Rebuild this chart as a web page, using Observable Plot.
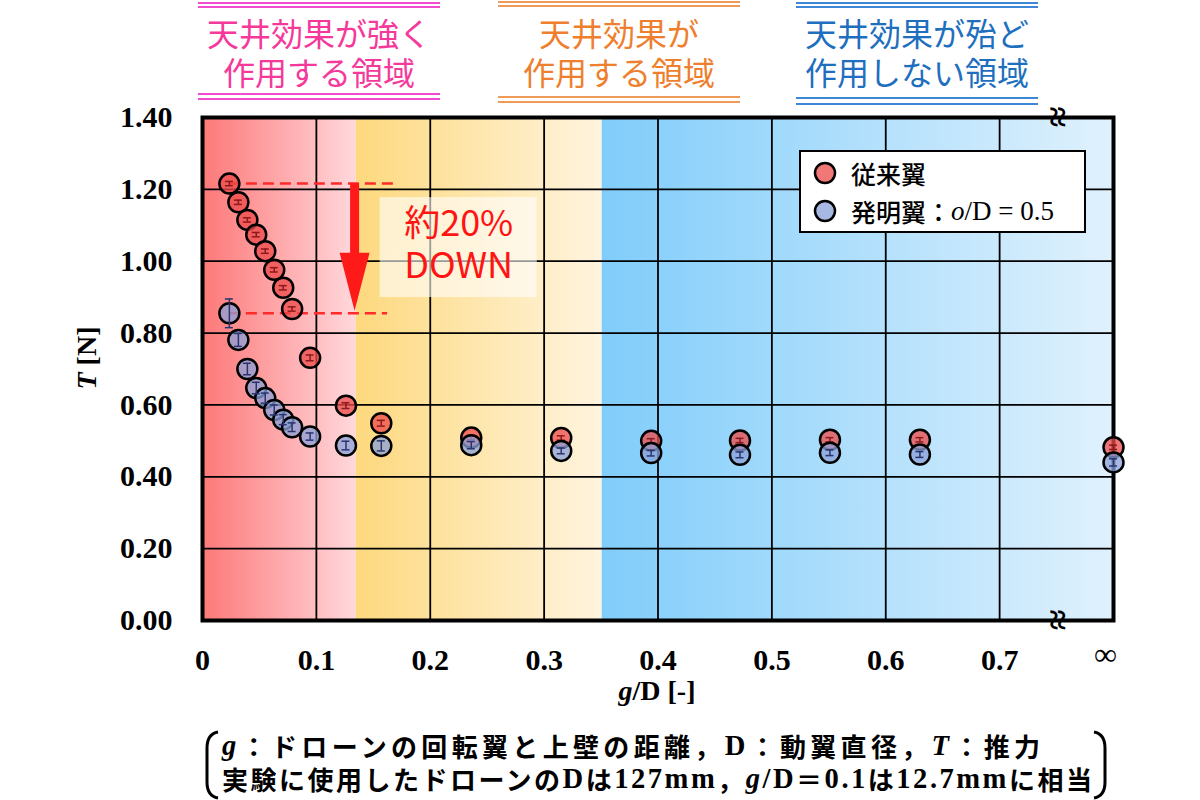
<!DOCTYPE html>
<html><head><meta charset="utf-8">
<script src="https://cdn.jsdelivr.net/npm/d3@7"></script>
<script src="https://cdn.jsdelivr.net/npm/@observablehq/plot@0.6"></script>
<style>
body{margin:0;background:#fff;}
#chart{width:1200px;height:800px;}
</style></head><body><div id="chart"></div>
<script>
// ---------- data ----------
const gD = [0.0236,0.0315,0.0394,0.0472,0.0551,0.0630,0.0709,0.0787,0.0945,0.126,0.157,0.236,0.315,0.394,0.472,0.551,0.630,Infinity];
const thrustConventional = [1.216,1.164,1.115,1.074,1.028,0.976,0.926,0.867,0.731,0.598,0.549,0.509,0.508,0.500,0.501,0.503,0.503,0.482];
const errConventional    = [0.006,0.006,0.006,0.006,0.006,0.006,0.006,0.006,0.008,0.008,0.008,0.006,0.006,0.006,0.006,0.006,0.006,0.006];
const thrustInvention    = [0.855,0.781,0.700,0.647,0.619,0.586,0.559,0.538,0.512,0.487,0.486,0.488,0.472,0.466,0.461,0.467,0.462,0.440];
const errInvention       = [0.040,0.018,0.016,0.016,0.014,0.014,0.014,0.012,0.010,0.012,0.014,0.010,0.008,0.008,0.008,0.008,0.008,0.010];
const seriesNames = ["従来翼","発明翼："];
const xTicks = [0,0.1,0.2,0.3,0.4,0.5,0.6,0.7];
const xTickLabels = ["0","0.1","0.2","0.3","0.4","0.5","0.6","0.7"];
const infLabel = "∞";
const yTicks = [0,0.2,0.4,0.6,0.8,1.0,1.2,1.4];
const regionBounds = [0,0.135,0.351,0.8];
const regionTitles = [["天井効果が強く","作用する領域"],["天井効果が","作用する領域"],["天井効果が殆ど","作用しない領域"]];
const regionColors = ["#f5399b","#ee7f2e","#1f6fbf"];
const regionLineColors = ["#f04ccd","#f09a5a","#3d88d6"];
const bandStops = [["#fd7878","#ffd8dc"],["#fdd97e","#fff4de"],["#80cdfb","#e0f1fd"]];
const dropText = ["約20%","DOWN"];
const captionLines = [
  [["g","it"],["：ドローンの回転翼と上壁の距離，",""],["D","ser"],["：動翼直径，",""],["T","it"],["：推力",""]],
  [["実験に使用したドローンの",""],["D","ser"],["は",""],["127mm","ser"],["，",""],["g","it"],["/D","ser"],["＝",""],["0.1","ser"],["は",""],["12.7mm","ser"],["に相当",""]]
];

// ---------- build ----------
const X_INF = 0.8;
const rows = gD.map((g,i)=>({
  x: isFinite(g) ? g : X_INF,
  red: thrustConventional[i], redErr: errConventional[i],
  blue: thrustInvention[i], blueErr: errInvention[i]
}));
const bands = regionBounds.slice(0,-1).map((b,i)=>({x1:b, x2:regionBounds[i+1], id:"band"+i}));
const cap = 0.0035;
const dashes = [
  {y: thrustConventional[0], x1: gD[0], x2: 0.168},
  {y: thrustInvention[0], x1: gD[0], x2: 0.1625}
];
const RED = "#ee4a4a", BLUE = "#8aa0d8";
const serif = "'Liberation Serif','Times New Roman',serif";
const jp = "'Noto Sans CJK JP','Noto Sans',sans-serif";

const plot = Plot.plot({
  width:1200, height:800,
  marginLeft:202, marginRight:87, marginTop:117, marginBottom:180,
  style:{fontFamily:serif, background:"transparent", overflow:"visible"},
  x:{domain:[0,0.8]},
  y:{domain:[0,1.4]},
  marks:[
    ...bands.map(b => Plot.rect([b], {x1:"x1", x2:"x2", fill:`url(#${b.id})`})),
    Plot.gridX({ticks: xTicks.slice(1), stroke:"#000", strokeOpacity:1, strokeWidth:1.8}),
    Plot.gridY({ticks: yTicks.slice(1,-1), stroke:"#000", strokeOpacity:1, strokeWidth:1.8}),
    Plot.rect([0], {x1:()=>0.156, x2:()=>0.294, y1:()=>0.899, y2:()=>1.177, fill:"#fff", fillOpacity:0.6}),
    Plot.text([dropText[0]], {x:()=>0.225, y:()=>1.102, text:d=>d, fill:"#ff1414", fontSize:36, fontFamily:jp}),
    Plot.text([dropText[1]], {x:()=>0.225, y:()=>0.984, text:d=>d, fill:"#ff1414", fontSize:36, fontFamily:jp}),
    Plot.ruleY(dashes, {y:"y", x1:"x1", x2:"x2", stroke:"#ff2a2a", strokeWidth:2.5, strokeDasharray:"11,6"}),
    Plot.frame({stroke:"#000", strokeWidth:4}),
    Plot.axisX({ticks:xTicks, tickFormat:(d)=>xTickLabels[xTicks.indexOf(d)], tickSize:0, tickPadding:28, fontSize:30, fontWeight:"bold", label:null}),
    Plot.text([infLabel], {x:()=>X_INF, frameAnchor:"bottom", dy:44, dx:-8, text:d=>d, fontSize:32, fontFamily:serif}),
    Plot.axisY({ticks:yTicks, tickFormat:d=>d.toFixed(2), tickSize:0, tickPadding:30, fontSize:30, fontWeight:"bold", label:null}),
    Plot.dot(rows, {x:"x", y:"red", r:10, fill:RED, fillOpacity:0.75, stroke:"#000", strokeWidth:2.5}),
    Plot.ruleX(rows, {x:"x", y1:d=>d.red-d.redErr, y2:d=>d.red+d.redErr, stroke:"#8b1a1a", strokeWidth:1.5}),
    Plot.ruleY(rows, {y:d=>d.red-d.redErr, x1:d=>d.x-cap, x2:d=>d.x+cap, stroke:"#8b1a1a", strokeWidth:1.5}),
    Plot.ruleY(rows, {y:d=>d.red+d.redErr, x1:d=>d.x-cap, x2:d=>d.x+cap, stroke:"#8b1a1a", strokeWidth:1.5}),
    Plot.dot(rows, {x:"x", y:"blue", r:10, fill:BLUE, fillOpacity:0.75, stroke:"#000", strokeWidth:2.5}),
    Plot.ruleX(rows, {x:"x", y1:d=>d.blue-d.blueErr, y2:d=>d.blue+d.blueErr, stroke:"#2a3570", strokeWidth:1.5}),
    Plot.ruleY(rows, {y:d=>d.blue-d.blueErr, x1:d=>d.x-cap, x2:d=>d.x+cap, stroke:"#2a3570", strokeWidth:1.5}),
    Plot.ruleY(rows, {y:d=>d.blue+d.blueErr, x1:d=>d.x-cap, x2:d=>d.x+cap, stroke:"#2a3570", strokeWidth:1.5})
  ]
});
document.getElementById("chart").append(plot);

const svg = d3.select(plot);
const xs = plot.scale("x"), ys = plot.scale("y");
const X = v => xs.apply(v), Y = v => ys.apply(v);

// gradients
const defs = svg.insert("defs", ":first-child");
bands.forEach((b,i)=>{
  const lg = defs.append("linearGradient").attr("id", b.id).attr("x1","0").attr("x2","1").attr("y1","0").attr("y2","0");
  lg.append("stop").attr("offset","0").attr("stop-color", bandStops[i][0]);
  lg.append("stop").attr("offset","1").attr("stop-color", bandStops[i][1]);
});

// arrow (from conventional to invention first value)
const ax = X(0.134), ay1 = Y(thrustConventional[0]), ay2 = Y(thrustInvention[0]) - 2;
const headH = 58, headW = 30, shaftW = 9;
const ag = svg.append("g").attr("fill","#ff1a1a");
ag.append("rect").attr("x", ax - shaftW/2).attr("y", ay1).attr("width", shaftW).attr("height", ay2 - headH - ay1 + 1);
ag.append("path").attr("d", `M${ax-headW/2},${ay2-headH} L${ax+headW/2},${ay2-headH} L${ax},${ay2} Z`);

// break marks
[117, 620].forEach(yy=>{
  svg.append("text").attr("transform", `translate(${X(0.752)},${yy}) rotate(90)`)
    .attr("text-anchor","middle").attr("dominant-baseline","central")
    .attr("font-family", serif).attr("font-weight","bold").attr("font-size",38).text("≈");
});

// axis labels
const yl = svg.append("text").attr("transform","translate(86,358) rotate(-90)")
  .attr("text-anchor","middle").attr("dominant-baseline","central")
  .attr("font-family",serif).attr("font-weight","bold").attr("font-size",28);
yl.append("tspan").attr("font-style","italic").text("T");
yl.append("tspan").text(" [N]");
const xl = svg.append("text").attr("x",657).attr("y",690)
  .attr("text-anchor","middle").attr("dominant-baseline","central")
  .attr("font-family",serif).attr("font-weight","bold").attr("font-size",28);
xl.append("tspan").attr("font-style","italic").text("g");
xl.append("tspan").text("/D [-]");

// legend
const lg = svg.append("g").attr("text-anchor","start");
lg.append("rect").attr("x",800).attr("y",151).attr("width",285).attr("height",81).attr("fill","#fff").attr("stroke","#000").attr("stroke-width",2);
[[RED,173],[BLUE,211]].forEach(([c,yy])=>{
  lg.append("circle").attr("cx",825).attr("cy",yy).attr("r",10).attr("fill",c).attr("fill-opacity",0.75).attr("stroke","#000").attr("stroke-width",2.5);
});
lg.append("text").attr("x",851).attr("y",173).attr("text-anchor","start").attr("dominant-baseline","central")
  .attr("font-family",jp).attr("font-weight",500).attr("font-size",25).text(seriesNames[0]);
const l2 = lg.append("text").attr("x",851).attr("y",211).attr("text-anchor","start").attr("dominant-baseline","central")
  .attr("font-family",jp).attr("font-weight",500).attr("font-size",25);
l2.append("tspan").text(seriesNames[1]);
l2.append("tspan").attr("font-family",serif).attr("font-style","italic").attr("font-size",27).text("o");
l2.append("tspan").attr("font-family",serif).attr("font-size",27).text("/D = 0.5");

// region headers
const centers = [319, 619, 917];
const lineY = [[3,7,94,99],[2,6,97,102],[3,7,98,104]];
centers.forEach((cx,i)=>{
  const g = svg.append("g");
  lineY[i].forEach(yy=>{
    g.append("line").attr("x1",cx-121).attr("x2",cx+121).attr("y1",yy).attr("y2",yy)
      .attr("stroke",regionLineColors[i]).attr("stroke-width",2);
  });
  regionTitles[i].forEach((t,j)=>{
    g.append("text").attr("x",cx).attr("y", j===0 ? 32 : 71).attr("text-anchor","middle").attr("dominant-baseline","central")
      .attr("font-family",jp).attr("font-size",32).attr("fill",regionColors[i]).text(t);
  });
});

// caption: fixed font size, letter spacing fills the reference width
const capX = [222, 222], capEnd = [1040, 1092], capY = [745, 778];
captionLines.forEach((parts,i)=>{
  const base = 26;
  const t = svg.append("text").attr("x",capX[i]).attr("y",capY[i]).attr("text-anchor","start").attr("dominant-baseline","central")
    .attr("font-family",jp).attr("font-weight","bold").attr("font-size",base);
  parts.forEach(([s,st])=>{
    const sp = t.append("tspan").text(s);
    if (st==="it") sp.attr("font-family",serif).attr("font-style","italic").attr("font-size",base*1.1);
    if (st==="ser") sp.attr("font-family",serif).attr("font-size",base*1.1);
  });
  const w = t.node().getComputedTextLength();
  const n = parts.reduce((a,[s])=>a+[...s].length,0);
  const ls = Math.max(0, ((capEnd[i]-capX[i]) - w) / (n - 1));
  t.attr("letter-spacing", ls.toFixed(2));
});
svg.append("path").attr("d","M218,732 Q207,734 207,748 L207,782 Q207,796 218,798").attr("fill","none").attr("stroke","#000").attr("stroke-width",3);
svg.append("path").attr("d","M1094,732 Q1105,734 1105,748 L1105,782 Q1105,796 1094,798").attr("fill","none").attr("stroke","#000").attr("stroke-width",3);
</script></body></html>
